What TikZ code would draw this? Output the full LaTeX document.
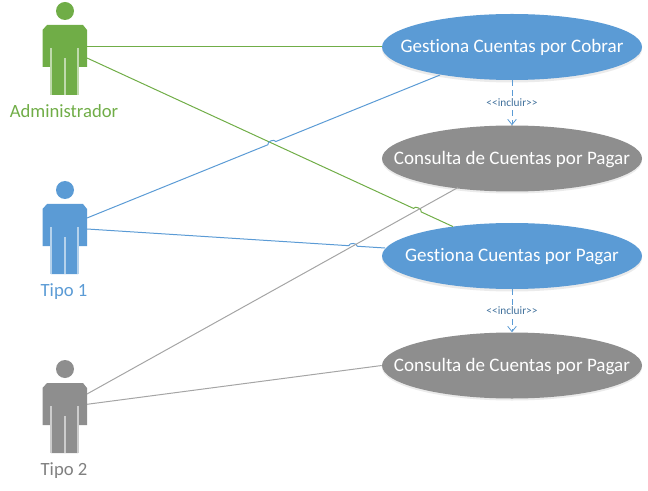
\documentclass[tikz,border=0pt]{standalone}
\usepackage{fontspec}
\setmainfont[RawFeature={-liga}]{Carlito}
\usetikzlibrary{calc,shapes.geometric,arrows.meta}
\definecolor{cgreen}{HTML}{70AD47}
\definecolor{cblue}{HTML}{5B9BD5}
\definecolor{cgray}{HTML}{A5A5A5}
\definecolor{cfill}{HTML}{8E8E8E}
\definecolor{cinc}{HTML}{41719C}
\tikzset{
 x=0.75pt,y=-0.75pt,
 usecase/.style={ellipse,fill=#1,minimum width=195pt,minimum height=49.5pt,inner sep=0pt},
 casetext/.style={text=white,font=\fontsize{14.3pt}{16pt}\selectfont,inner sep=0pt,yshift=-0.6pt},
 ushadow/.style={ellipse,fill=black!8,minimum width=195pt,minimum height=49.5pt,inner sep=0pt},
 actorlabel/.style={anchor=base,font=\fontsize{14pt}{16pt}\selectfont,text=#1},
 assoc/.style={draw=#1,line width=0.75pt},
 incl/.style={draw=cblue,line width=0.75pt,dash pattern=on 4.5pt off 3pt,-{Straight Barb[length=4pt,width=6.5pt,line width=0.6pt]}},
 incltext/.style={font=\fontsize{8.5pt}{9pt}\selectfont,text=cinc,fill=white,inner sep=1pt},
}
% #1 y offset, #2 colour, #3 name prefix, #4 #5 connector heights
\newcommand{\drawactor}[5]{%
 \begin{scope}[yshift=-0.75pt*#1]
  \fill[#2] (65,11) circle[radius=9];
  \fill[#2] (47,25) -- (83,25) -- (87,30) -- (87,67) -- (78,67) -- (78,95) -- (51,95) -- (51,67) -- (42.5,67) -- (42.5,30) -- cycle;
  \draw[#2!45!white,line width=0.9pt] (51,48) -- (51,95) (78,48) -- (78,95) (65,58) -- (65,95);
  \coordinate (#3u) at (87,#4);
  \coordinate (#3l) at (87,#5);
 \end{scope}}
\newcommand{\jumpline}[4]{% colour, from, crossing, to
 \draw[assoc=#1] (#2) -- ($(#3)!3.2pt!(#2)$) to[bend left=85] ($(#3)!3.2pt!(#4)$) -- (#4);}
\newcommand{\bl}{<{}<incluir>{}>}
\begin{document}
\begin{tikzpicture}
\useasboundingbox (0,0) rectangle (648,491);
\drawactor{0}{cgreen}{a}{47}{58}
\drawactor{179}{cblue}{b}{39}{50}
\drawactor{358}{cfill}{c}{36}{46.3}
\node[actorlabel=cgreen] (la) at (64,117.7) {Administrador};
\node[actorlabel=cblue] (lb) at (64,296.7) {Tipo 1};
\node[actorlabel=black!50] (lc) at (64,475.7) {Tipo 2};
\foreach \n/\yy in {1/49.5,2/160.5,3/258.5,4/367.5} \node[ushadow] (s\n) at (512,\yy) {};
\node[usecase=cblue,label={[casetext]center:Gestiona Cuentas por Cobrar}] (e1) at (512,47) {};
\node[usecase=cfill,label={[casetext]center:Consulta de Cuentas por Pagar}] (e2) at (512,158.5) {};
\node[usecase=cblue,label={[casetext]center:Gestiona Cuentas por Pagar}] (e3) at (512,256) {};
\node[usecase=cfill,label={[casetext]center:Consulta de Cuentas por Pagar}] (e4) at (512,365.5) {};
\coordinate (t1) at (440,75);
\coordinate (t3) at (453,226.6);
\coordinate (t2) at (458,187.5);
\coordinate (t4) at (385,248);
\coordinate (x1) at (intersection of al--t3 and bu--t1);
\coordinate (x2) at (intersection of al--t3 and cu--t2);
\coordinate (x3) at (intersection of bl--t4 and cu--t2);
\draw[assoc=cgreen] (au) -- (e1.west);
\jumpline{cgreen}{al}{x2}{t3}
\jumpline{cblue}{bu}{x1}{t1}
\jumpline{cblue}{bl}{x3}{t4}
\draw[assoc=cgray] (cu) -- (t2);
\draw[assoc=cgray] (cl) -- (e4.west);
\draw[incl] (e1.south) -- (e2.north) node[midway,incltext] (i1) {\bl};
\draw[incl] (e3.south) -- (e4.north) node[midway,incltext] (i2) {\bl};
\end{tikzpicture}
\end{document}
